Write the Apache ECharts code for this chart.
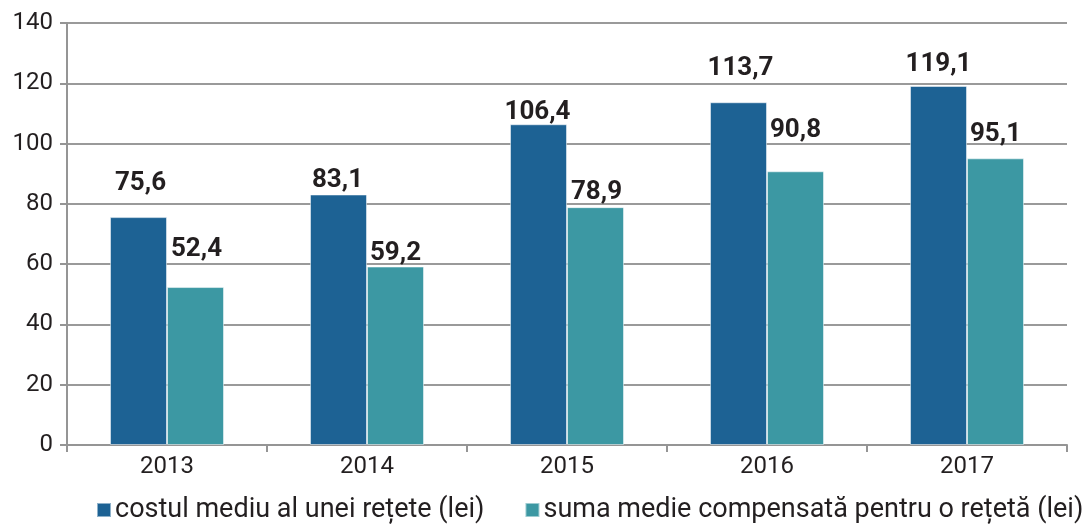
<!DOCTYPE html>
<html>
<head>
<meta charset="utf-8">
<script src="https://cdn.jsdelivr.net/npm/echarts@6/dist/echarts.min.js"></script>
<style>
  html, body { margin: 0; padding: 0; background: #fff; }
  #main { width: 1083px; height: 525px; }
</style>
</head>
<body>
<div id="main"></div>
<script>
// date
var years = ['2013', '2014', '2015', '2016', '2017'];
var costMediu = [75.6, 83.1, 106.4, 113.7, 119.1];
var sumaCompensata = [52.4, 59.2, 78.9, 90.8, 95.1];
var seriesNames = ['costul mediu al unei rețete (lei)', 'suma medie compensată pentru o rețetă (lei)'];

// decalaj vertical al etichetelor (ca in original)
var offCost = [[2, -21], [-1, -1], [-1, 1], [2, -21], [0, -8]];
var offSuma = [[1, -25], [0, 0], [1, -2], [0, -28], [0, -11]];

var myChart = echarts.init(document.getElementById('main'));

function withLabels(values, offsets) {
  return values.map(function (v, i) {
    return { value: v, label: { offset: offsets[i] } };
  });
}

var labelStyle = {
  show: true,
  position: 'top',
  distance: 0,
  color: '#231f20',
  fontFamily: 'Roboto',
  fontWeight: 'bold',
  fontSize: 26,
  formatter: function (p) {
    return p.value.toFixed(1).replace('.', ',');
  }
};

var option = {
  animation: false,
  textStyle: { fontFamily: 'Roboto' },
  grid: {
    top: 23,
    left: 67,
    right: 16,
    bottom: 80
  },
  legend: {
    top: 496,
    left: 96,
    width: 1000,
    padding: 0,
    itemWidth: 14,
    itemHeight: 14,
    itemGap: 40,
    icon: 'rect',
    textStyle: {
      color: '#231f20',
      fontSize: 27,
      lineHeight: 28,
      fontFamily: 'Roboto',
      padding: [0, 0, 0, -1]
    },
    data: seriesNames
  },
  xAxis: {
    type: 'category',
    data: years,
    axisLine: { lineStyle: { color: '#959595', width: 2 } },
    axisTick: { show: true, length: 7, lineStyle: { color: '#959595', width: 2 } },
    axisLabel: { color: '#231f20', fontSize: 24, margin: 10 }
  },
  yAxis: {
    type: 'value',
    min: 0,
    max: 140,
    interval: 20,
    axisLine: { show: true, lineStyle: { color: '#959595', width: 2 } },
    axisTick: { show: true, length: 7, lineStyle: { color: '#959595', width: 2 } },
    axisLabel: { color: '#231f20', fontSize: 24, margin: 14 },
    splitLine: { show: true, lineStyle: { color: '#9a9a9a', width: 2 } }
  },
  series: [
    {
      name: seriesNames[0],
      type: 'bar',
      barGap: '0%',
      barCategoryGap: '43%',
      itemStyle: { color: '#1d6294', borderColor: 'rgba(255,255,255,0.5)', borderWidth: 1 },
      label: labelStyle,
      data: withLabels(costMediu, offCost)
    },
    {
      name: seriesNames[1],
      type: 'bar',
      barGap: '0%',
      barCategoryGap: '43%',
      itemStyle: { color: '#3c98a3', borderColor: 'rgba(255,255,255,0.5)', borderWidth: 1 },
      label: labelStyle,
      data: withLabels(sumaCompensata, offSuma)
    }
  ]
};

myChart.setOption(option);
</script>
</body>
</html>
